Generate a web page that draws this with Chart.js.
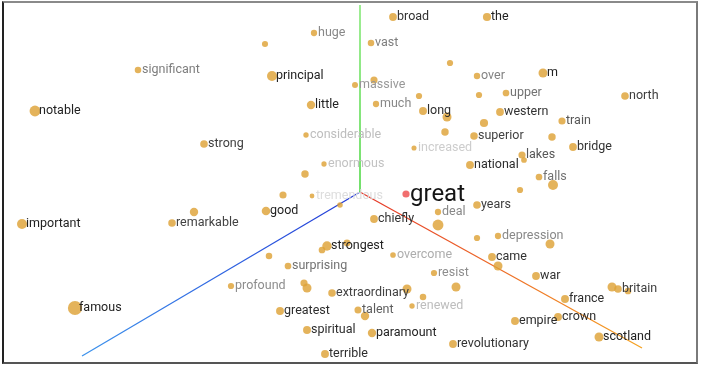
<!DOCTYPE html>
<html><head><meta charset="utf-8">
<script src="https://cdn.jsdelivr.net/npm/chart.js@4/dist/chart.umd.min.js"></script>
<style>
html,body{margin:0;padding:0;background:#fff;}
#wrap{position:relative;width:703px;height:366px;overflow:hidden;}
#frame{position:absolute;left:2px;top:1px;width:692px;height:359px;border-style:solid;border-width:2px;border-color:#8a8a8a #7a7a7a #555 #222;pointer-events:none;}
canvas{position:absolute;left:0;top:0;}
</style></head><body>
<div id="wrap"><canvas id="c" width="703" height="366"></canvas><div id="frame"></div></div>
<script>
// Projected word-embedding neighbours (component 1, component 2, depth toward viewer)
const words = ["broad","huge","","vast","the","","significant","principal","over","m",
  "massive","","","","upper","north","notable","little","much","long",
  "","western","","train","strong","","considerable","superior","","bridge",
  "increased","lakes","","national","enormous","","falls","","","",
  "tremendous","","great","years","deal","chiefly","good","","remarkable","important",
  "","strongest","","","","overcome","depression","","","came",
  "","surprising","resist","war","profound","","","extraordinary","","",
  "","","britain","","france","renewed","greatest","talent","","empire",
  "crown","spiritual","paramount","scotland","revolutionary","terrible","famous"];
const xs = [0.33,-0.46,-0.95,0.11,1.27,0.90,-2.22,-0.88,1.17,1.83,
  -0.05,0.14,0.59,1.19,1.46,2.65,-3.25,-0.49,0.16,0.63,
  0.87,1.40,1.24,2.02,-1.56,0.85,-0.54,1.14,1.92,2.13,
  0.54,1.62,1.64,1.10,-0.36,-0.55,1.79,1.93,1.60,-0.77,
  -0.48,-0.20,0.46,1.17,0.78,0.14,-0.94,-1.66,-1.88,-3.38,
  0.78,-0.33,-0.38,-0.13,-0.91,0.33,1.38,1.17,1.90,1.32,
  1.38,-0.72,0.74,1.76,-1.29,-0.56,-0.53,-0.28,0.47,0.96,
  0.63,2.52,2.58,2.68,2.05,0.52,-0.80,-0.02,0.05,1.55,
  1.98,-0.53,0.12,2.39,0.93,-0.35,-2.85];
const ys = [1.75,1.59,1.48,1.49,1.75,1.29,1.22,1.16,1.16,1.19,
  1.07,1.12,0.96,0.97,0.99,0.96,0.81,0.87,0.88,0.81,
  0.75,0.80,0.69,0.71,0.48,0.60,0.57,0.56,0.55,0.45,
  0.44,0.37,0.32,0.27,0.28,0.18,0.15,0.07,0.02,-0.03,
  -0.04,-0.13,-0.02,-0.13,-0.20,-0.27,-0.19,-0.20,-0.31,-0.32,
  -0.33,-0.54,-0.58,-0.51,-0.64,-0.63,-0.44,-0.46,-0.52,-0.65,
  -0.74,-0.74,-0.81,-0.84,-0.94,-0.91,-0.96,-1.01,-0.97,-0.95,
  -1.05,-0.95,-0.97,-0.99,-1.07,-1.14,-1.19,-1.18,-1.24,-1.29,
  -1.25,-1.38,-1.41,-1.45,-1.52,-1.62,-1.16];
const depth = [0.32,0.16,0.14,0.18,0.36,0.15,0.18,0.55,0.17,0.45,
  0.13,0.25,0.15,0.15,0.20,0.30,0.65,0.38,0.16,0.33,
  0.45,0.32,0.36,0.25,0.30,0.28,0.06,0.29,0.28,0.32,
  0.03,0.25,0.10,0.33,0.05,0.28,0.20,0.55,0.15,0.25,
  0.00,0.08,0.30,0.30,0.16,0.32,0.40,0.38,0.29,0.55,
  0.65,0.50,0.20,0.22,0.18,0.09,0.16,0.15,0.45,0.32,
  0.45,0.20,0.15,0.32,0.15,0.25,0.45,0.29,0.45,0.45,
  0.18,0.45,0.30,0.20,0.33,0.06,0.33,0.24,0.38,0.33,
  0.33,0.33,0.38,0.45,0.32,0.33,1.00];
const focusWord = "great";
// principal axis directions (end points of the three drawn axes)
const axisX = [2.82,-1.56];
const axisY = [0,1.87];
const axisZ = [-2.78,-1.64];

const points = xs.map((x,i)=>({x:x,y:ys[i]}));
function radiusFor(d){ return 2.4 + 4.7*d; }
function shadeFor(d){ const g = Math.round(221 - 187*Math.min(1, d/0.35)); return 'rgb('+g+','+g+','+g+')'; }

function axisGradient(c0,c1,end){
  return function(ctx){
    const ch = ctx.chart;
    if(!ch.chartArea || !ch.scales.x) return c0;
    const sx = ch.scales.x, sy = ch.scales.y;
    const g = ch.ctx.createLinearGradient(sx.getPixelForValue(0), sy.getPixelForValue(0), sx.getPixelForValue(end[0]), sy.getPixelForValue(end[1]));
    g.addColorStop(0,c0); g.addColorStop(1,c1);
    return g;
  };
}
function axisSet(end,c0,c1,w){
  return {type:'line', data:[{x:0,y:0},{x:end[0],y:end[1]}], borderColor:axisGradient(c0,c1,end),
    borderWidth:w, pointRadius:0, fill:false, order:2, clip:false};
}

const labelPlugin = {
  id:'wordLabels',
  afterDatasetsDraw(chart){
    const meta = chart.getDatasetMeta(3);
    const ctx = chart.ctx;
    ctx.save();
    ctx.textBaseline = 'middle';
    const idx = words.map((w,i)=>i).filter(i=>words[i]).sort((a,b)=>depth[a]-depth[b]);
    idx.forEach(i=>{
      const el = meta.data[i];
      const focus = words[i]===focusWord;
      ctx.font = focus ? '24px Roboto' : '12.5px Roboto';
      ctx.fillStyle = focus ? '#151515' : shadeFor(depth[i]);
      ctx.fillText(words[i], el.x + 4, el.y + (focus ? 1 : 0));
    });
    ctx.restore();
  }
};

function build(){
  new Chart(document.getElementById('c'), {
    type:'scatter',
    data:{datasets:[
      axisSet(axisY,'#4fd845','#86e878',1.6),
      axisSet(axisZ,'#2238d6','#3d93ec',1.3),
      axisSet(axisX,'#e5362a','#f5a323',1.3),
      {type:'scatter', data:points, order:1, clip:false,
        pointRadius: depth.map((d,i)=> words[i]===focusWord ? 3.6 : radiusFor(d)),
        pointBackgroundColor: words.map(w=> w===focusWord ? 'rgba(240,95,95,0.9)' : 'rgba(222,162,55,0.82)'),
        pointBorderWidth:0, pointHoverRadius:0}
    ]},
    options:{
      responsive:false, animation:false, devicePixelRatio:1,
      layout:{padding:0, autoPadding:false},
      plugins:{legend:{display:false}, tooltip:{enabled:false}},
      scales:{
        x:{type:'linear', min:-3.6, max:3.43, display:false},
        y:{type:'linear', min:-1.74, max:1.92, display:false}
      },
      events:[]
    },
    plugins:[labelPlugin]
  });
}
if(document.fonts && document.fonts.load){
  Promise.all([document.fonts.load('12.5px Roboto'),document.fonts.load('24px Roboto')]).then(build, build);
} else build();
</script>
</body></html>
